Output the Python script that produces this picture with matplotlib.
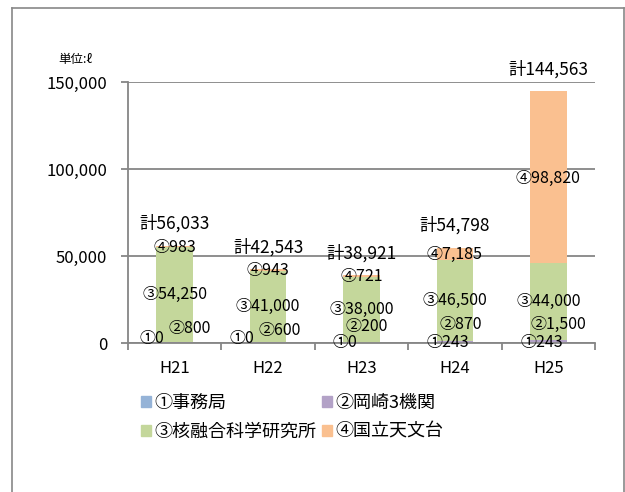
import matplotlib
matplotlib.use("Agg")
import matplotlib.pyplot as plt
from matplotlib.patches import Patch
from matplotlib.lines import Line2D
import numpy as np

plt.rcParams['font.family'] = ['Noto Sans CJK JP', 'DejaVu Sans']

# data
years = ["H21", "H22", "H23", "H24", "H25"]
jimukyoku = [0, 0, 0, 243, 243]           # ①事務局
okazaki = [800, 600, 200, 870, 1500]      # ②岡崎3機関
yugo = [54250, 41000, 38000, 46500, 44000]  # ③核融合科学研究所
tenmon = [983, 943, 721, 7185, 98820]     # ④国立天文台
series_names = ["①事務局", "②岡崎3機関", "③核融合科学研究所", "④国立天文台"]
colors = ["#95B3D7", "#B3A2C7", "#C4D79B", "#FAC090"]

# label placement (pixels), tuned by eye
lab1_dx = [-23, -26, -17, -7, -6]
lab1_dy = [5, 5, 0, 1, 1]
lab2_dx = [15, 12, 5, 6, 10]
lab2_dy = [14, 13, 17, 18, 19]

fig = plt.figure(figsize=(6.25, 4.92), dpi=100)
ax = fig.add_axes([128/625, 1 - 343/492, (595 - 128)/625, (343 - 82)/492])

x = np.arange(len(years))
s1 = np.array(jimukyoku)
s2 = np.array(okazaki)
s3 = np.array(yugo)
s4 = np.array(tenmon)
width = 0.39

ax.bar(x, s1, width, color=colors[0], zorder=2)
ax.bar(x, s2, width, bottom=s1, color=colors[1], zorder=2)
ax.bar(x, s3, width, bottom=s1 + s2, color=colors[2], zorder=2)
ax.bar(x, s4, width, bottom=s1 + s2 + s3, color=colors[3], zorder=2)

totals = s1 + s2 + s3 + s4
fs = 11.5
for i in range(len(years)):
    ax.annotate("①{:,}".format(s1[i]), (x[i], 0), xytext=(lab1_dx[i], lab1_dy[i]),
                textcoords="offset pixels", ha="center", va="center", fontsize=fs, zorder=3)
    ax.annotate("②{:,}".format(s2[i]), (x[i], 0), xytext=(lab2_dx[i], lab2_dy[i]),
                textcoords="offset pixels", ha="center", va="center", fontsize=fs, zorder=3)
    ax.text(x[i], s1[i] + s2[i] + s3[i] / 2, "③{:,}".format(s3[i]),
            ha="center", va="center", fontsize=fs, zorder=3)
    y4 = s1[i] + s2[i] + s3[i] + s4[i] / 2
    ax.annotate("④{:,}".format(s4[i]), (x[i], y4), xytext=(0, -1),
                textcoords="offset pixels", ha="center", va="center", fontsize=fs, zorder=3)
    ax.annotate("計{:,}".format(totals[i]), (x[i], totals[i]), xytext=(0, 22),
                textcoords="offset pixels", ha="center", va="center", fontsize=12.5, zorder=3)

ax.set_xlim(-0.5, len(years) - 0.5)
ax.set_ylim(0, 150000)
ax.set_yticks([0, 50000, 100000, 150000])
ax.set_yticklabels(["{:,}".format(v) for v in [0, 50000, 100000, 150000]], fontsize=12)
ax.set_xticks(x)
ax.set_xticklabels(years, fontsize=12)
ax.set_xticks(np.arange(len(years) + 1) - 0.5, minor=True)
ax.tick_params(axis="x", which="major", length=0, pad=12)
ax.tick_params(axis="x", which="minor", length=5, color="#868686", width=1.3)
ax.tick_params(axis="y", length=5, color="#868686", width=1.3, pad=10)

ax.yaxis.grid(True, color="#868686", linewidth=1.3, zorder=0)
ax.set_axisbelow(True)
for side in ["top", "right"]:
    ax.spines[side].set_visible(False)
for side in ["left", "bottom"]:
    ax.spines[side].set_color("#868686")
    ax.spines[side].set_linewidth(1.3)

fig.text(58/625, 1 - 59/492, "単位:ℓ", fontsize=9, va="center", ha="left")

# legend, row-major order
handles = [Patch(color=c) for c in colors]
order = [0, 2, 1, 3]
fig.legend([handles[k] for k in order], [series_names[k] for k in order],
           ncol=2, loc="upper left", bbox_to_anchor=(132/625, 1 - 385/492),
           frameon=False, fontsize=13, handlelength=0.55, handleheight=0.55,
           handletextpad=0.2, columnspacing=0.3, labelspacing=0.6, borderpad=0)

# outer chart frame
fc = "#888888"
fig.add_artist(Line2D([12/625, 12/625], [0, 1 - 8/492], color=fc, lw=1.2))
fig.add_artist(Line2D([12/625, 623.5/625], [1 - 8/492, 1 - 8/492], color=fc, lw=1.2))
fig.add_artist(Line2D([623.5/625, 623.5/625], [0, 1 - 8/492], color=fc, lw=1.2))

fig.savefig("out.png", dpi=100)
